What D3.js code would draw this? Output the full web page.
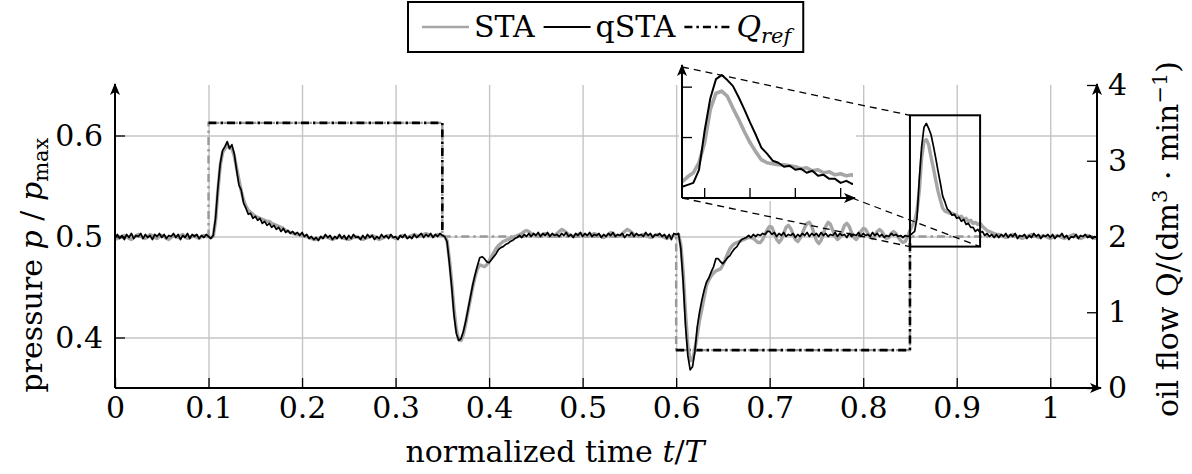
<!DOCTYPE html>
<html lang="en">
<head>
<meta charset="UTF-8"/>
<title>Pressure response STA / qSTA</title>
<script src="https://d3js.org/d3.v7.min.js"></script>
<style>
  body { margin: 0; background: #fff; }
  svg text { font-family: "DejaVu Serif", serif; fill: #000; }
</style>
</head>
<body>
<div id="chart"></div>
<script>
var width = 1192;
var height = 474;
var fontSize = 30;

// both pressure traces are sampled every 0.0025 of t/T, from 0 to 1.05
var sampleStep = 0.0025;

// STA pressure p/pmax, in thousandths (one row = 20 samples = 0.05 t/T)
var sta = [
  497,498,500,499,501,500,498,497,499,501,502,500,499,498,500,502,501,499,498,500,
  501,500,498,497,499,501,500,499,501,502,500,498,499,500,501,499,498,500,501,500,
  500,499,500,515,545,570,583,587,590,588,587,580,568,556,545,536,530,526,524,522,
  520,519,518,517,516,515,515,513,512,511,510,509,508,506,505,504,503,503,502,502,
  501,500,500,499,498,497,497,498,499,499,500,499,498,497,498,499,500,499,498,498,
  497,498,499,500,499,498,497,498,499,500,501,500,498,497,498,499,500,501,500,499,
  498,499,500,501,500,499,500,501,502,501,500,501,502,503,502,501,500,501,502,501,
  501,500,496,478,455,428,408,398,397,403,414,426,438,450,460,468,472,471,470,472,
  476,480,484,488,491,493,495,496,497,498,499,500,501,502,503,505,506,505,503,502,
  501,500,501,502,503,502,501,500,501,503,505,507,506,504,502,501,500,501,502,503,
  502,501,500,501,502,503,502,501,500,499,500,502,504,503,501,500,501,503,505,507,
  506,504,502,501,500,501,502,501,500,499,500,501,502,501,500,499,498,499,500,501,
  502,502,492,465,425,392,377,378,388,402,417,428,440,452,457,461,464,466,467,468,
  472,477,483,488,491,493,494,495,496,497,498,499,499,498,496,494,494,497,502,507,
  510,509,503,497,494,497,503,509,511,508,502,497,495,498,503,509,513,514,510,503,
  496,493,496,503,510,514,512,506,500,497,499,505,511,513,510,504,499,497,500,505,
  508,507,503,499,498,501,505,507,505,501,498,499,503,505,503,499,496,494,495,500,
  506,511,515,525,545,578,594,596,591,579,568,556,545,536,528,525,524,523,523,522,
  521,519,520,517,518,515,516,513,514,512,513,510,508,506,505,504,503,502,502,501,
  500,499,500,501,502,501,500,499,498,499,500,501,502,501,500,499,500,501,500,499,
  498,499,500,501,500,499,498,499,500,501,502,500,499,498,499,500,501,500,499,498,
  499
];

// qSTA pressure p/pmax, in thousandths
var qsta = [
  499,502,498,501,497,502,499,503,498,501,500,503,498,502,499,501,497,502,500,503,
  499,502,498,501,500,503,499,502,497,501,499,503,498,502,500,502,498,501,499,502,
  500,498,501,518,548,572,585,589,594,587,591,582,566,551,546,533,528,522,523,518,
  520,516,518,513,515,511,513,509,511,507,509,505,508,504,506,503,505,502,504,501,
  504,500,502,498,500,497,499,496,500,498,502,499,501,497,500,498,502,498,501,497,
  501,498,502,499,500,497,501,498,502,499,501,497,500,498,502,499,501,498,502,499,
  500,497,501,499,502,498,500,498,502,499,501,503,499,502,500,503,499,502,500,503,
  501,500,495,474,450,422,404,397,399,406,416,428,440,452,462,471,479,480,478,475,
  474,477,480,483,487,489,490,492,493,495,496,498,499,501,499,502,500,503,500,503,
  501,504,500,503,501,504,500,503,501,502,500,503,501,504,500,502,499,503,501,504,
  500,503,501,504,500,502,501,503,499,502,500,503,501,504,500,502,501,503,499,502,
  501,504,500,503,501,502,500,504,501,503,499,502,501,503,500,502,498,502,497,503,
  502,503,488,455,412,382,368,371,386,410,425,437,447,455,459,465,470,478,478,475,
  473,476,479,481,485,488,490,494,497,498,499,501,499,502,500,502,501,503,502,505,
  505,502,504,500,503,501,504,500,502,501,503,499,502,500,503,501,504,500,503,501,
  503,500,504,501,503,500,502,501,504,500,503,501,502,499,503,500,502,501,504,500,
  503,501,502,500,504,501,503,500,502,499,501,500,503,501,502,500,501,499,501,500,
  501,503,505,518,557,589,608,612,607,601,590,578,565,553,540,534,527,525,521,522,
  518,519,515,517,512,513,509,509,505,507,504,505,501,503,500,502,499,502,499,502,
  500,503,499,502,500,503,498,501,500,502,498,501,499,503,500,502,498,501,500,502,
  499,502,498,501,500,503,499,501,497,500,499,502,498,501,500,502,499,501,498,500,
  499
];

// reference oil flow Q (dm^3/min), step profile
var qrefTime = [0, 0.1, 0.1, 0.35, 0.35, 0.6, 0.6, 0.85, 0.85, 1.05];
var qrefFlow = [2, 2, 3.5, 3.5, 2, 2, 0.5, 0.5, 2, 2];

// axis ticks
var xTicks = [0, 0.1, 0.2, 0.3, 0.4, 0.5, 0.6, 0.7, 0.8, 0.9, 1];
var xTickLabels = ["0", "0.1", "0.2", "0.3", "0.4", "0.5", "0.6", "0.7", "0.8", "0.9", "1"];
var pTicks = [0.4, 0.5, 0.6];
var pTickLabels = ["0.4", "0.5", "0.6"];
var qTicks = [0, 1, 2, 3, 4];
var qTickLabels = ["0", "1", "2", "3", "4"];

// zoomed window shown in the inset
var zoomTime = [0.85, 0.925];
var zoomPressure = [0.49, 0.62];
var insetTimeTicks = [0.86, 0.88, 0.9, 0.92];
var insetPressureTicks = [0.55, 0.6];

// plot area
var plotLeft = 115, plotRight = 1097, plotTop = 85, plotBottom = 388;

var x = d3.scaleLinear().domain([0, 1.05]).range([plotLeft, plotRight]);
var yP = d3.scaleLinear().domain([0.35, 0.65]).range([plotBottom, plotTop]);
var yQ = d3.scaleLinear().domain([0, 4]).range([plotBottom, plotTop]);

// inset scales
var ix = d3.scaleLinear().domain(zoomTime).range([682, 852]);
var iy = d3.scaleLinear().domain(zoomPressure).range([198, 67]);

var staPts = sta.map(function(v, i) { return [i * sampleStep, v / 1000]; });
var qstaPts = qsta.map(function(v, i) { return [i * sampleStep, v / 1000]; });
var qrefPts = qrefTime.map(function(t, i) { return [t, qrefFlow[i]]; });

var svg = d3.select("#chart").append("svg")
  .attr("width", width)
  .attr("height", height)
  .style("display", "block");

svg.append("rect").attr("width", width).attr("height", height).attr("fill", "#fff");

var defs = svg.append("defs");
defs.append("marker")
  .attr("id", "arrow")
  .attr("viewBox", "0 -5 12 10")
  .attr("refX", 11)
  .attr("refY", 0)
  .attr("markerWidth", 12)
  .attr("markerHeight", 10)
  .attr("markerUnits", "userSpaceOnUse")
  .attr("orient", "auto")
  .append("path")
  .attr("d", "M0,-5L12,0L0,5L3,0Z")
  .attr("fill", "#000");

defs.append("clipPath").attr("id", "plotClip")
  .append("rect").attr("x", plotLeft).attr("y", plotTop)
  .attr("width", plotRight - plotLeft).attr("height", plotBottom - plotTop);

defs.append("clipPath").attr("id", "insetClip")
  .append("rect").attr("x", 682).attr("y", 60)
  .attr("width", 171).attr("height", 139);

// grid
var gridX = svg.append("g")
  .attr("transform", "translate(0," + plotBottom + ")")
  .call(d3.axisBottom(x).tickValues(xTicks.slice(1)).tickSize(-(plotBottom - plotTop)).tickFormat(""));
var gridY = svg.append("g")
  .attr("transform", "translate(" + plotLeft + ",0)")
  .call(d3.axisLeft(yP).tickValues(pTicks).tickSize(-(plotRight - plotLeft)).tickFormat(""));
[gridX, gridY].forEach(function(g) {
  g.select(".domain").remove();
  g.selectAll("line").attr("stroke", "#c4c4c4").attr("stroke-width", 1.4);
});

var plot = svg.append("g").attr("clip-path", "url(#plotClip)");

// reference flow: grey where it sits on the baseline, black on the steps
var qrefLine = d3.line().x(function(d) { return x(d[0]); }).y(function(d) { return yQ(d[1]); });
plot.append("path")
  .attr("d", qrefLine(qrefPts))
  .attr("fill", "none")
  .attr("stroke", "#999")
  .attr("stroke-width", 2.4)
  .attr("stroke-dasharray", "8,4,2.5,4");
[[2, 5], [6, 9]].forEach(function(r) {
  plot.append("path")
    .attr("d", qrefLine(qrefPts.slice(r[0], r[1])))
    .attr("fill", "none")
    .attr("stroke", "#000")
    .attr("stroke-width", 2.6)
    .attr("stroke-dasharray", "8,4,2.5,4");
});

var pLine = d3.line().x(function(d) { return x(d[0]); }).y(function(d) { return yP(d[1]); });
plot.append("path")
  .attr("d", pLine(staPts))
  .attr("fill", "none")
  .attr("stroke", "#a6a6a6")
  .attr("stroke-width", 3.4)
  .attr("stroke-linejoin", "round");
plot.append("path")
  .attr("d", pLine(qstaPts))
  .attr("fill", "none")
  .attr("stroke", "#000")
  .attr("stroke-width", 1.7)
  .attr("stroke-linejoin", "round");

// zoom box
var bx0 = x(zoomTime[0]), bx1 = x(zoomTime[1]);
var by0 = yP(zoomPressure[1]), by1 = yP(zoomPressure[0]);
svg.append("rect")
  .attr("x", bx0).attr("y", by0)
  .attr("width", bx1 - bx0).attr("height", by1 - by0)
  .attr("fill", "none").attr("stroke", "#000").attr("stroke-width", 2);

// inset
svg.append("rect").attr("x", 679).attr("y", 60).attr("width", 177).attr("height", 141).attr("fill", "#fff");
var inset = svg.append("g").attr("clip-path", "url(#insetClip)");
var iLine = d3.line().x(function(d) { return ix(d[0]); }).y(function(d) { return iy(d[1]); });
var inWindow = function(d) { return d[0] >= zoomTime[0] - 0.003 && d[0] <= zoomTime[1] + 0.003; };
inset.append("path")
  .attr("d", iLine(staPts.filter(inWindow)))
  .attr("fill", "none").attr("stroke", "#a6a6a6").attr("stroke-width", 3.6)
  .attr("stroke-linejoin", "round");
inset.append("path")
  .attr("d", iLine(qstaPts.filter(inWindow)))
  .attr("fill", "none").attr("stroke", "#000").attr("stroke-width", 2)
  .attr("stroke-linejoin", "round");

// dashed connectors between the inset and the zoom box
var connectors = [
  [ix(zoomTime[0]), iy(zoomPressure[1]), bx0, by0],
  [ix(zoomTime[0]), iy(zoomPressure[0]), bx0, by1],
  [ix(zoomTime[1]), iy(zoomPressure[0]), bx1, by1]
];
svg.selectAll(".connector")
  .data(connectors)
  .enter()
  .append("line")
  .attr("class", "connector")
  .attr("x1", function(d) { return d[0]; })
  .attr("y1", function(d) { return d[1]; })
  .attr("x2", function(d) { return d[2]; })
  .attr("y2", function(d) { return d[3]; })
  .attr("stroke", "#000")
  .attr("stroke-width", 1.3)
  .attr("stroke-dasharray", "7,5");

svg.selectAll(".itx").data(insetTimeTicks).enter().append("line")
  .attr("x1", function(d) { return ix(d); }).attr("x2", function(d) { return ix(d); })
  .attr("y1", 198).attr("y2", 188)
  .attr("stroke", "#000").attr("stroke-width", 1.3);
svg.selectAll(".ity").data(insetPressureTicks).enter().append("line")
  .attr("y1", function(d) { return iy(d); }).attr("y2", function(d) { return iy(d); })
  .attr("x1", 682).attr("x2", 692)
  .attr("stroke", "#000").attr("stroke-width", 1.3);
svg.append("line").attr("x1", 682).attr("y1", 198).attr("x2", 855).attr("y2", 198)
  .attr("stroke", "#000").attr("stroke-width", 2).attr("marker-end", "url(#arrow)");
svg.append("line").attr("x1", 682).attr("y1", 198).attr("x2", 682).attr("y2", 65)
  .attr("stroke", "#000").attr("stroke-width", 2).attr("marker-end", "url(#arrow)");

// axes: ticks and labels
function styleAxis(g) {
  g.select(".domain").remove();
  g.attr("font-size", fontSize).attr("font-family", "DejaVu Serif");
  g.selectAll(".tick line").attr("stroke", "#000").attr("stroke-width", 1.3);
}
svg.append("g")
  .attr("transform", "translate(0," + plotBottom + ")")
  .call(d3.axisBottom(x).tickValues(xTicks).tickSizeInner(-10).tickSizeOuter(0).tickPadding(9)
    .tickFormat(function(d, i) { return xTickLabels[i]; }))
  .call(styleAxis);
svg.append("g")
  .attr("transform", "translate(" + plotLeft + ",0)")
  .call(d3.axisLeft(yP).tickValues(pTicks).tickSizeInner(-10).tickSizeOuter(0).tickPadding(12)
    .tickFormat(function(d, i) { return pTickLabels[i]; }))
  .call(styleAxis);
svg.append("g")
  .attr("transform", "translate(" + plotRight + ",0)")
  .call(d3.axisRight(yQ).tickValues(qTicks).tickSizeInner(-10).tickSizeOuter(0).tickPadding(11)
    .tickFormat(function(d, i) { return qTickLabels[i]; }))
  .call(styleAxis);

// axis lines with arrow heads
svg.append("line").attr("x1", plotLeft).attr("y1", plotBottom).attr("x2", plotRight + 4).attr("y2", plotBottom)
  .attr("stroke", "#000").attr("stroke-width", 2).attr("marker-end", "url(#arrow)");
svg.append("line").attr("x1", plotLeft).attr("y1", plotBottom).attr("x2", plotLeft).attr("y2", plotTop - 1)
  .attr("stroke", "#000").attr("stroke-width", 2).attr("marker-end", "url(#arrow)");
svg.append("line").attr("x1", plotRight).attr("y1", plotBottom).attr("x2", plotRight).attr("y2", plotTop - 1)
  .attr("stroke", "#000").attr("stroke-width", 2).attr("marker-end", "url(#arrow)");

// axis titles
var xt = svg.append("text")
  .attr("x", 555).attr("y", 462)
  .attr("text-anchor", "middle")
  .attr("font-size", fontSize);
xt.append("tspan").text("normalized time ");
xt.append("tspan").attr("font-style", "italic").text("t");
xt.append("tspan").text("/");
xt.append("tspan").attr("font-style", "italic").text("T");

var yl = svg.append("text")
  .attr("transform", "translate(42,265) rotate(-90)")
  .attr("text-anchor", "middle")
  .attr("font-size", fontSize);
yl.append("tspan").text("pressure ");
yl.append("tspan").attr("font-style", "italic").text("p");
yl.append("tspan").text(" / ");
yl.append("tspan").attr("font-style", "italic").text("p");
yl.append("tspan").attr("font-size", fontSize * 0.7).attr("dy", 6).text("max");

var yr = svg.append("text")
  .attr("transform", "translate(1178,239) rotate(-90)")
  .attr("text-anchor", "middle")
  .attr("font-size", fontSize);
yr.append("tspan").text("oil flow Q/(dm");
yr.append("tspan").attr("font-size", fontSize * 0.7).attr("dy", -11).text("3");
yr.append("tspan").attr("dy", 11).text(" \u00b7 min");
yr.append("tspan").attr("font-size", fontSize * 0.7).attr("dy", -11).text("\u22121");
yr.append("tspan").attr("dy", 11).text(")");

// legend
var legend = svg.append("g");
var lx = 422, ly = 27;
function legendSample(color, widthPx, dash) {
  legend.append("line")
    .attr("x1", lx).attr("x2", lx + 47).attr("y1", ly).attr("y2", ly)
    .attr("stroke", color).attr("stroke-width", widthPx)
    .attr("stroke-dasharray", dash);
  lx += 52;
}
function legendLabel(build) {
  var t = legend.append("text").attr("x", lx).attr("y", ly + 10).attr("font-size", fontSize);
  build(t);
  lx += t.node().getComputedTextLength() + 9;
}
legendSample("#a6a6a6", 2.6, null);
legendLabel(function(t) { t.text("STA"); });
legendSample("#000", 2, null);
legendLabel(function(t) { t.text("qSTA"); });
legendSample("#000", 2.4, "8,4,2.5,4");
legendLabel(function(t) {
  t.append("tspan").attr("font-style", "italic").text("Q");
  t.append("tspan").attr("font-style", "italic").attr("font-size", fontSize * 0.7).attr("dy", 6).text("ref");
});
legend.insert("rect", ":first-child")
  .attr("x", 408).attr("y", 2)
  .attr("width", lx - 408 + 3).attr("height", 50)
  .attr("fill", "#fff").attr("stroke", "#000").attr("stroke-width", 2);
</script>
</body>
</html>
